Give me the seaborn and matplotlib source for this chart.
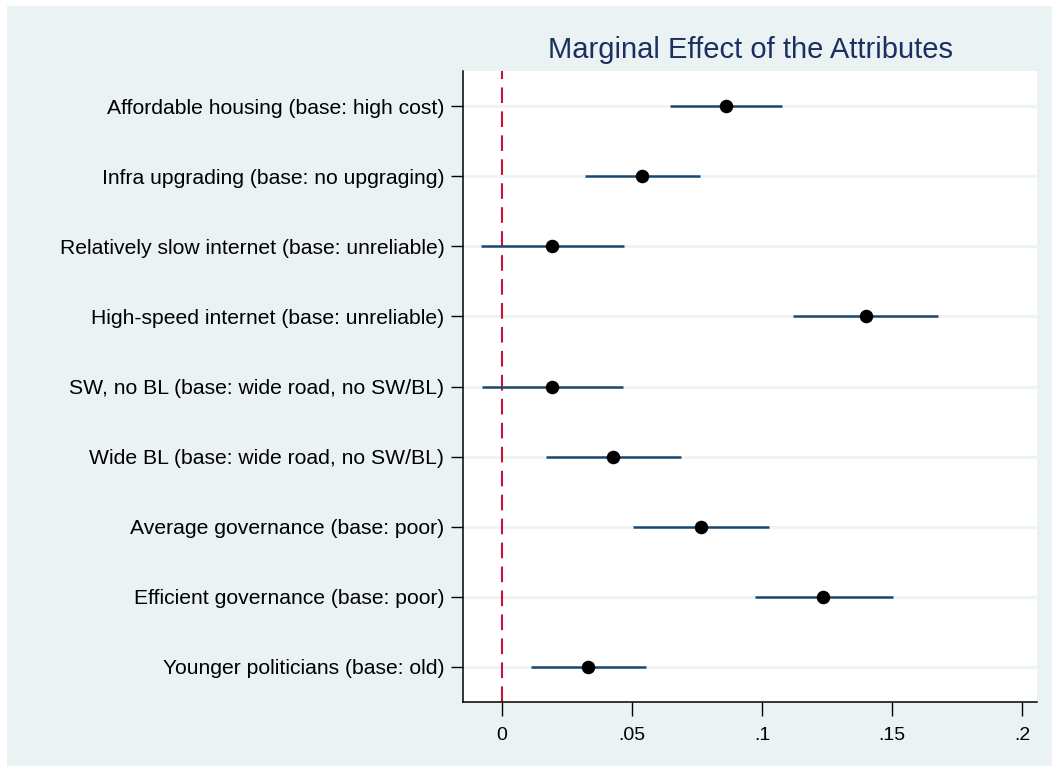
import numpy as np
import pandas as pd
import matplotlib
matplotlib.use("Agg")
import matplotlib.pyplot as plt
from matplotlib.patches import Rectangle
import seaborn as sns

# attribute labels, top to bottom
attributes = [
    "Affordable housing (base: high cost)",
    "Infra upgrading (base: no upgraging)",
    "Relatively slow internet (base: unreliable)",
    "High-speed internet (base: unreliable)",
    "SW, no BL (base: wide road, no SW/BL)",
    "Wide BL (base: wide road, no SW/BL)",
    "Average governance (base: poor)",
    "Efficient governance (base: poor)",
    "Younger politicians (base: old)",
]
# marginal effects and 95% CI bounds
effect = [0.0861, 0.0539, 0.0194, 0.1400, 0.0192, 0.0427, 0.0765, 0.1235, 0.0331]
ci_low = [0.0648, 0.0321, -0.0082, 0.1121, -0.0077, 0.0169, 0.0504, 0.0973, 0.0112]
ci_high = [0.1076, 0.0760, 0.0470, 0.1678, 0.0465, 0.0688, 0.1027, 0.1504, 0.0553]
xticks = [0, 0.05, 0.1, 0.15, 0.2]
xtick_labels = ["0", ".05", ".1", ".15", ".2"]

df = pd.DataFrame({"attribute": attributes, "effect": effect,
                   "lo": ci_low, "hi": ci_high})
df["pos"] = np.arange(len(df))

sns.set_theme(style="white")
plt.rcParams["font.family"] = ["Liberation Sans", "DejaVu Sans"]

bg = "#eaf2f3"
fig = plt.figure(figsize=(10.52, 7.67), dpi=100)
fig.patch.set_facecolor("white")
fig.patches.append(Rectangle((7 / 1052, 0.0013), 1.0, 1 - 6 / 767 - 0.0013,
                             transform=fig.transFigure, facecolor=bg,
                             edgecolor="none", zorder=-10))

ax = fig.add_axes([463 / 1052, 1 - 702 / 767, (1037 - 463) / 1052, (702 - 71) / 767])
ax.set_facecolor("white")

# light horizontal gridlines at each attribute
for p in df["pos"]:
    ax.axhline(p, color="#eef3f5", lw=2.0, zorder=0)

ax.axvline(0, color="#cc1036", lw=1.5, dashes=(7.5, 4), zorder=1)
ax.hlines(df["pos"], df["lo"], df["hi"], color="#1a476f", lw=1.8, zorder=2)
sns.scatterplot(data=df, x="effect", y="pos", color="black", s=95,
                edgecolor="black", linewidth=0, zorder=3, ax=ax, legend=False)

ax.set_xlim(-0.015, 0.2058)
ax.set_ylim(len(df) - 0.5, -0.5)
ax.set_yticks(df["pos"])
ax.set_yticklabels(df["attribute"], fontsize=15.2)
ax.set_xticks(xticks)
ax.set_xticklabels(xtick_labels, fontsize=14)
ax.set_xlabel("")
ax.set_ylabel("")
ax.tick_params(axis="y", length=9, width=1, pad=4.5, colors="black", left=True)
ax.tick_params(axis="x", length=10, width=1, pad=8, colors="black", bottom=True)

for side in ["top", "right"]:
    ax.spines[side].set_visible(False)
for side in ["left", "bottom"]:
    ax.spines[side].set_color("black")
    ax.spines[side].set_linewidth(1.1)

ax.set_title("Marginal Effect of the Attributes", fontsize=21, color="#1c2f5e", pad=9)

fig.savefig("out.png", dpi=100, facecolor=fig.get_facecolor())
